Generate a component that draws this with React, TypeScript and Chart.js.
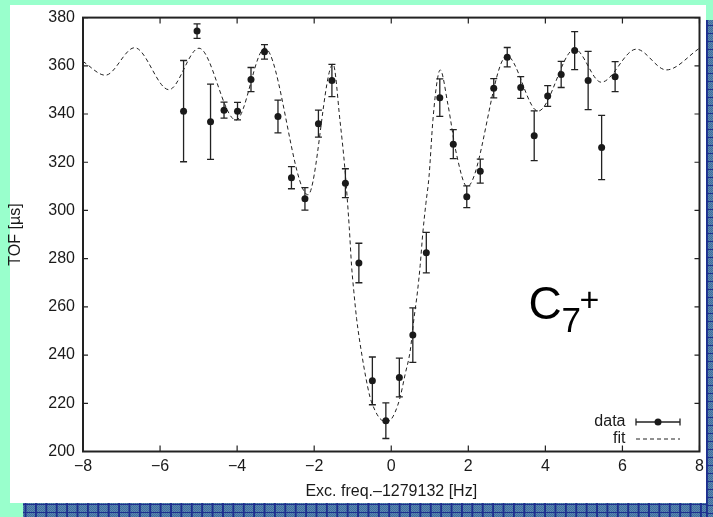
import React, { useEffect, useRef } from "react";
import { Chart, registerables } from "chart.js";

Chart.register(...registerables);

// ---- data ----
const dataX = [
  -5.39, -5.04, -4.69, -4.34, -3.99, -3.64, -3.29, -2.94, -2.59, -2.24, -1.89,
  -1.54, -1.19, -0.84, -0.49, -0.14, 0.21, 0.56, 0.91, 1.26, 1.61, 1.96, 2.31,
  2.66, 3.01, 3.36, 3.71, 4.06, 4.41, 4.76, 5.11, 5.46, 5.81,
];
const dataY = [
  341.2, 374.4, 336.8, 341.6, 341.2, 354.3, 365.8, 339.0, 313.6, 304.8, 336.0,
  353.9, 311.3, 278.2, 229.3, 212.8, 230.7, 248.3, 282.5, 346.8, 327.5, 305.7,
  316.3, 350.7, 363.6, 351.0, 331.0, 347.5, 356.4, 366.3, 353.9, 326.1, 355.5,
];
const dataErr = [
  21.0, 3.0, 15.6, 3.3, 3.6, 5.0, 3.0, 6.8, 4.6, 4.7, 5.6, 6.7, 6.0, 8.2, 9.9,
  7.4, 8.0, 11.3, 8.4, 7.8, 6.0, 4.5, 5.0, 4.0, 4.0, 4.5, 10.3, 4.3, 5.4, 7.9,
  12.1, 13.3, 6.2,
];
const fitX = [
  -8.0, -7.42, -6.66, -5.77, -4.99, -4.03, -3.28, -2.16, -1.51, -1.33, -1.2,
  -1.09, -1.03, -0.97, -0.9, -0.83, -0.75, -0.66, -0.55, -0.42, -0.29, -0.14,
  -0.03, 0.1, 0.23, 0.36, 0.49, 0.59, 0.68, 0.75, 0.82, 0.9, 0.98, 1.08, 1.19,
  1.27, 1.47, 1.69, 1.97, 3.0, 3.81, 4.76, 5.45, 6.36, 7.14, 8.0,
];
const fitY = [
  361.8, 356.1, 367.5, 350.1, 367.3, 337.5, 367.3, 306.5, 360.7, 337.2, 316.7,
  293.0, 277.1, 266.2, 255.2, 247.0, 238.9, 230.7, 222.5, 217.0, 213.6, 212.4,
  212.9, 216.3, 222.5, 232.0, 241.6, 255.2, 266.2, 277.1, 290.8, 303.0, 314.0,
  337.2, 353.6, 358.3, 344.0, 323.6, 309.9, 364.1, 341.2, 366.9, 353.2, 366.9,
  358.3, 367.3,
];
const xRange = [-8, 8];
const yRange = [200, 380];
const xStep = 2;
const yStep = 20;
const xTitle = "Exc. freq.–1279132 [Hz]";
const yTitle = "TOF [µs]";
const legendLabels = ["data", "fit"];

// ---- layout / style ----
const W = 713;
const H = 517;
const PLOT = { left: 83, right: 699.5, top: 12.3, bottom: 451.5 };
const FONT = "'Liberation Sans', Arial, Helvetica, sans-serif";
const INK = "#1a1a1a";

const fmt = (v: number) => (v < 0 ? "\u2212" + Math.abs(v) : String(v));

const decor = {
  id: "decor",
  beforeDatasetsDraw(chart: any) {
    const { ctx } = chart;
    const xs = chart.scales.x;
    const ys = chart.scales.y;
    ctx.save();
    ctx.strokeStyle = "#222";
    ctx.lineWidth = 1.3;
    for (let i = 0; i < dataX.length; i++) {
      const px = xs.getPixelForValue(dataX[i]);
      const top = ys.getPixelForValue(dataY[i] + dataErr[i]);
      const bot = ys.getPixelForValue(dataY[i] - dataErr[i]);
      ctx.beginPath();
      ctx.moveTo(px, top);
      ctx.lineTo(px, bot);
      ctx.moveTo(px - 3.5, top);
      ctx.lineTo(px + 3.5, top);
      ctx.moveTo(px - 3.5, bot);
      ctx.lineTo(px + 3.5, bot);
      ctx.stroke();
    }
    ctx.restore();
  },
  afterDatasetsDraw(chart: any) {
    const { ctx, chartArea: a } = chart;
    const xs = chart.scales.x;
    const ys = chart.scales.y;
    ctx.save();
    ctx.strokeStyle = "#222";
    ctx.lineWidth = 1.2;
    ctx.beginPath();
    xs.ticks.forEach((t: any) => {
      const px = xs.getPixelForValue(t.value);
      ctx.moveTo(px, a.bottom);
      ctx.lineTo(px, a.bottom - 6);
      ctx.moveTo(px, a.top);
      ctx.lineTo(px, a.top + 6);
    });
    ys.ticks.forEach((t: any) => {
      const py = ys.getPixelForValue(t.value);
      ctx.moveTo(a.left, py);
      ctx.lineTo(a.left + 5, py);
      ctx.moveTo(a.right, py);
      ctx.lineTo(a.right - 5, py);
    });
    ctx.stroke();
    ctx.lineWidth = 2;
    ctx.strokeStyle = "#222";
    ctx.strokeRect(a.left, a.top, a.right - a.left, a.bottom - a.top);
    ctx.restore();
  },
  afterDraw(chart: any) {
    const { ctx, chartArea: a } = chart;
    ctx.save();
    // legend
    const textRight = a.right - 74;
    const l0 = a.right - 63.5;
    const l1 = a.right - 19.5;
    const y1 = a.bottom - 29.5;
    const y2 = a.bottom - 12.5;
    ctx.fillStyle = INK;
    ctx.font = `16px ${FONT}`;
    ctx.textAlign = "right";
    ctx.textBaseline = "middle";
    ctx.fillText(legendLabels[0], textRight, y1);
    ctx.fillText(legendLabels[1], textRight, y2);
    ctx.strokeStyle = "#222";
    ctx.lineWidth = 1.3;
    ctx.beginPath();
    ctx.moveTo(l0, y1);
    ctx.lineTo(l1, y1);
    ctx.moveTo(l0, y1 - 3.5);
    ctx.lineTo(l0, y1 + 3.5);
    ctx.moveTo(l1, y1 - 3.5);
    ctx.lineTo(l1, y1 + 3.5);
    ctx.stroke();
    ctx.beginPath();
    ctx.arc((l0 + l1) / 2, y1, 3.5, 0, Math.PI * 2);
    ctx.fill();
    ctx.lineWidth = 1;
    ctx.setLineDash([4, 3]);
    ctx.beginPath();
    ctx.moveTo(l0, y2);
    ctx.lineTo(l1, y2);
    ctx.stroke();
    ctx.setLineDash([]);
    // C7+ label
    ctx.fillStyle = "#000";
    ctx.textAlign = "left";
    ctx.textBaseline = "alphabetic";
    ctx.font = `46px ${FONT}`;
    ctx.fillText("C", 528.5, 318.5);
    ctx.font = `35px ${FONT}`;
    ctx.fillText("7", 561.5, 332);
    ctx.font = `34px ${FONT}`;
    ctx.fillText("+", 579.5, 311);
    ctx.restore();
  },
};

const blue: React.CSSProperties = {
  position: "absolute",
  backgroundColor: "#4a7aa6",
  backgroundImage:
    "linear-gradient(to right, #1e2f8f 0 1.5px, transparent 1.5px), linear-gradient(to bottom, #1e2f8f 0 1.5px, transparent 1.5px), repeating-conic-gradient(#5a87b1 0 25%, #3f6e9c 0 50%)",
  backgroundSize: "10.4px 8px, 10.4px 8px, 2px 2px",
};

export default function App() {
  const ref = useRef<HTMLCanvasElement>(null);
  useEffect(() => {
    const chart = new Chart(ref.current as HTMLCanvasElement, {
      type: "line",
      data: {
        datasets: [
          {
            label: legendLabels[0],
            data: dataX.map((x, i) => ({ x, y: dataY[i] })),
            showLine: false,
            pointRadius: 3.5,
            pointBackgroundColor: INK,
            pointBorderWidth: 0,
            borderColor: INK,
          },
          {
            label: legendLabels[1],
            data: fitX.map((x, i) => ({ x, y: fitY[i] })),
            borderColor: "#222",
            borderWidth: 1,
            borderDash: [4, 3],
            pointRadius: 0,
            cubicInterpolationMode: "monotone",
            fill: false,
          },
        ],
      },
      options: {
        responsive: false,
        animation: false,
        devicePixelRatio: 1,
        events: [],
        layout: {
          padding: { left: 0, right: W - PLOT.right, top: PLOT.top, bottom: 0 },
        },
        plugins: {
          legend: { display: false },
          tooltip: { enabled: false },
        },
        scales: {
          x: {
            type: "linear",
            min: xRange[0],
            max: xRange[1],
            grid: { display: false, drawTicks: false },
            border: { display: false },
            ticks: {
              stepSize: xStep,
              padding: 5,
              maxRotation: 0,
              color: INK,
              font: { family: FONT, size: 16 },
              callback: (v: any) => fmt(Number(v)),
            },
            title: {
              display: true,
              text: xTitle,
              color: INK,
              font: { family: FONT, size: 16 },
              padding: { top: 0, bottom: 16 },
            },
            afterFit: (s: any) => {
              s.height = H - PLOT.bottom;
            },
          },
          y: {
            type: "linear",
            min: yRange[0],
            max: yRange[1],
            grid: { display: false, drawTicks: false },
            border: { display: false },
            ticks: {
              stepSize: yStep,
              padding: 8,
              color: INK,
              font: { family: FONT, size: 16 },
              callback: (v: any) => fmt(Number(v)),
            },
            title: {
              display: true,
              text: yTitle,
              color: INK,
              font: { family: FONT, size: 16 },
              padding: { top: 6, bottom: 0 },
            },
            afterFit: (s: any) => {
              s.width = PLOT.left;
            },
          },
        },
      },
      plugins: [decor],
    } as any);
    return () => chart.destroy();
  }, []);

  return (
    <div
      style={{
        position: "fixed",
        left: 0,
        top: 0,
        width: W,
        height: H,
        background: "#99ffcc",
        overflow: "hidden",
      }}
    >
      <div style={{ ...blue, left: 23, top: 503, width: 690, height: 14, backgroundPosition: "1.6px 1px, 1.6px 1px, 0 0" }} />
      <div style={{ ...blue, left: 706, top: 20, width: 7, height: 497, backgroundPosition: "0 5px, 0 5px, 0 0" }} />
      <div style={{ position: "absolute", left: 10, top: 5, width: 696, height: 498, background: "#ffffff" }} />
      <canvas
        ref={ref}
        width={W}
        height={H}
        style={{ position: "absolute", left: 0, top: 0, width: W, height: H }}
      />
    </div>
  );
}
